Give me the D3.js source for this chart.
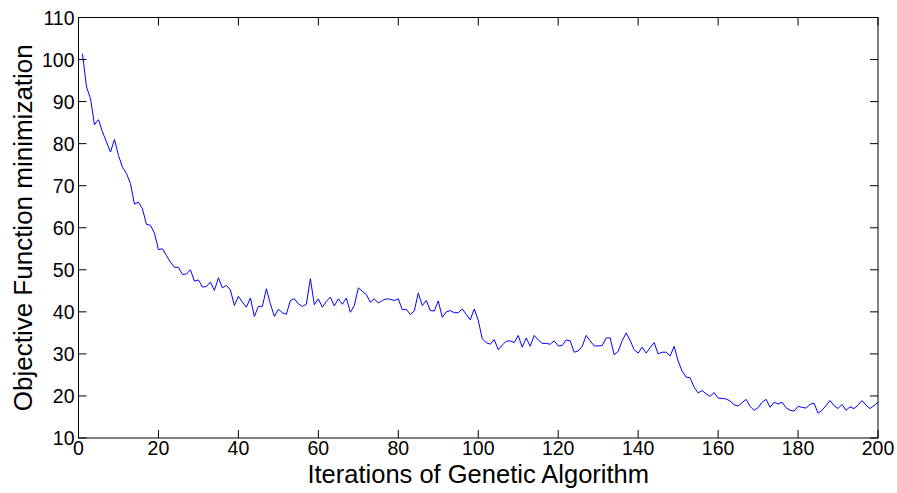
<!DOCTYPE html>
<html>
<head>
<meta charset="utf-8">
<script src="https://cdn.jsdelivr.net/npm/d3@7"></script>
<style>
html,body{margin:0;padding:0;background:#fff;}
text{font-family:"Liberation Sans",Arial,sans-serif;fill:#000;}
</style>
</head>
<body>
<svg id="chart" width="897" height="493"></svg>
<script>
const objectiveValues = [
101.4,93.5,90.7,84.5,85.7,82.8,80.4,78.0,81.0,77.2,
74.4,72.9,70.5,65.6,66.1,64.5,60.8,60.6,58.7,54.8,
55.0,53.4,51.8,50.6,50.6,48.9,49.0,50.0,47.3,47.6,
45.9,46.0,47.1,45.1,48.1,45.7,46.3,45.2,41.5,43.7,
42.3,41.1,43.3,38.9,41.3,41.3,45.5,41.9,38.9,40.6,
39.8,39.4,42.7,43.1,41.9,41.3,41.8,47.9,41.7,43.1,
41.1,42.5,43.5,41.4,43.1,41.8,43.3,39.9,41.5,45.7,
44.9,44.1,42.3,43.1,42.1,42.7,43.1,43.0,42.7,43.1,
40.5,40.6,39.4,40.2,44.5,41.5,42.7,40.3,40.2,42.6,
38.7,40.0,40.3,39.8,39.8,40.7,39.4,38.1,40.7,38.0,
33.6,32.7,32.3,33.4,31.0,32.1,33.0,33.1,32.7,34.4,
31.6,33.8,31.8,34.4,33.3,32.5,32.5,32.3,33.1,31.9,
32.0,33.3,33.1,30.4,30.7,31.8,34.4,33.1,31.9,31.9,
32.0,33.8,33.8,29.8,30.6,33.1,35.0,33.2,31.0,30.2,
31.6,30.2,31.5,32.7,30.0,30.4,30.4,29.5,31.8,28.3,
25.9,24.5,24.3,22.1,20.7,21.3,20.5,19.9,20.8,19.5,
19.4,19.3,18.8,17.9,17.6,18.4,19.2,17.5,16.6,17.2,
18.5,19.2,17.3,18.5,18.1,18.5,17.2,16.6,16.4,17.5,
17.3,17.1,18.0,18.3,15.9,16.6,17.7,18.9,17.7,17.0,
18.0,16.6,17.4,17.0,17.8,18.9,17.8,17.0,17.7,18.5
];
const iterations = objectiveValues.map((v,i)=>i+1);
const xTicks = [0,20,40,60,80,100,120,140,160,180,200];
const yTicks = [10,20,30,40,50,60,70,80,90,100,110];
const xLabel = "Iterations of Genetic Algorithm";
const yLabel = "Objective Function minimization";

const svg = d3.select("#chart");
const L = 78.5, R = 878, T = 17.5, B = 438;
const x = d3.scaleLinear().domain([0,200]).range([L,R]);
const y = d3.scaleLinear().domain([10,110]).range([B,T]);
const tickLen = 8;
const fs = 19.5;

// line
svg.append("path")
  .datum(iterations.map((it,i)=>[it,objectiveValues[i]]))
  .attr("fill","none").attr("stroke","#0000ff").attr("stroke-width",1)
  .attr("d", d3.line().x(d=>x(d[0])).y(d=>y(d[1])));

// box
svg.append("rect").attr("x",L).attr("y",T).attr("width",R-L).attr("height",B-T)
  .attr("fill","none").attr("stroke","#000").attr("stroke-width",1);

// ticks (inward, all four sides)
const g = svg.append("g").attr("stroke","#000").attr("stroke-width",1);
xTicks.forEach(t=>{
  g.append("line").attr("x1",x(t)).attr("x2",x(t)).attr("y1",B).attr("y2",B-tickLen);
  g.append("line").attr("x1",x(t)).attr("x2",x(t)).attr("y1",T).attr("y2",T+tickLen);
});
yTicks.forEach(t=>{
  g.append("line").attr("x1",L).attr("x2",L+tickLen).attr("y1",y(t)).attr("y2",y(t));
  g.append("line").attr("x1",R).attr("x2",R-tickLen).attr("y1",y(t)).attr("y2",y(t));
});

// tick labels
svg.append("g").selectAll("text").data(xTicks).join("text")
  .attr("x",d=>x(d)).attr("y",B+17).attr("text-anchor","middle")
  .attr("font-size",fs).text(d=>d);
svg.append("g").selectAll("text").data(yTicks).join("text")
  .attr("x",L-4).attr("y",d=>y(d)+7).attr("text-anchor","end")
  .attr("font-size",fs).text(d=>d);

// axis titles
svg.append("text").attr("x",(L+R)/2).attr("y",483).attr("text-anchor","middle")
  .attr("font-size",25.5).text(xLabel);
svg.append("text").attr("transform",`translate(32,${(T+B)/2}) rotate(-90)`)
  .attr("text-anchor","middle").attr("font-size",26).text(yLabel);
</script>
</body>
</html>
